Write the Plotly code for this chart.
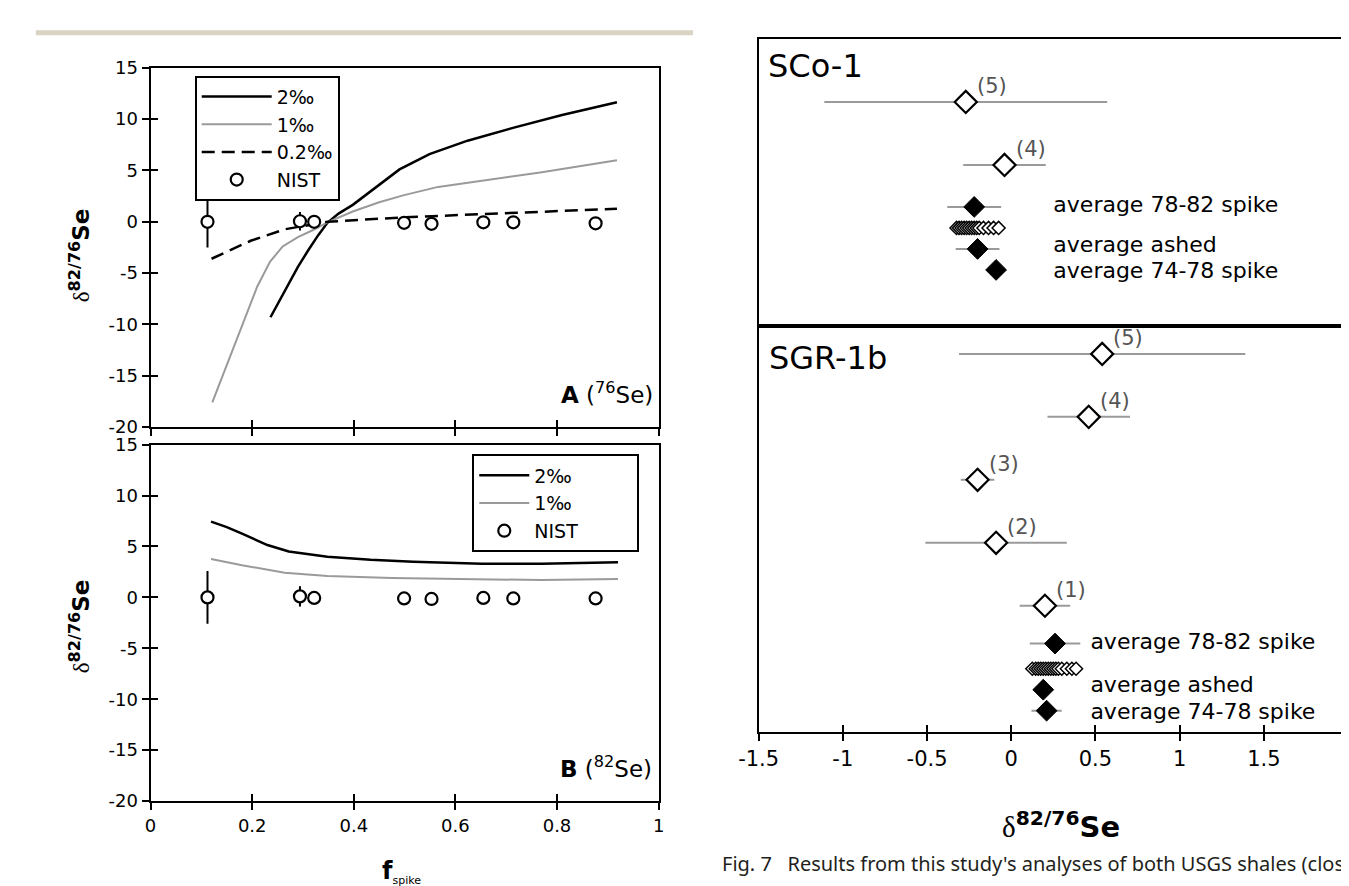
import plotly.graph_objects as go

W, H = 1349, 886

# ---------------- Data: left panels (f_spike vs delta82/76Se) ----------------
nist_f = [0.112, 0.294, 0.322, 0.499, 0.553, 0.655, 0.714, 0.876]
nist_a = [0.0, 0.05, 0.0, -0.1, -0.2, -0.05, -0.05, -0.15]
nist_a_err = [2.5, 0.9, 0.3, 0.3, 0.3, 0.3, 0.3, 0.3]
nist_b = [0.0, 0.1, -0.05, -0.1, -0.15, -0.05, -0.1, -0.1]
nist_b_err = [2.6, 1.0, 0.3, 0.3, 0.3, 0.3, 0.3, 0.3]

a2_f = [0.236, 0.262, 0.29, 0.31, 0.33, 0.348, 0.37, 0.398, 0.448, 0.49, 0.549, 0.624, 0.717, 0.81, 0.918]
a2_d = [-9.3, -6.9, -4.4, -2.8, -1.3, -0.1, 0.8, 1.65, 3.55, 5.1, 6.6, 7.9, 9.2, 10.4, 11.65]
a1_f = [0.1215, 0.15, 0.18, 0.21, 0.235, 0.26, 0.29, 0.32, 0.348, 0.398, 0.45, 0.499, 0.566, 0.65, 0.767, 0.918]
a1_d = [-17.6, -14.0, -10.1, -6.3, -3.9, -2.4, -1.5, -0.8, -0.05, 1.0, 1.9, 2.6, 3.4, 4.0, 4.8, 6.0]
a02_f = [0.12, 0.197, 0.264, 0.348, 0.499, 0.683, 0.918]
a02_d = [-3.6, -1.85, -0.73, 0.0, 0.44, 0.8, 1.27]

b2_f = [0.119, 0.15, 0.18, 0.23, 0.272, 0.348, 0.433, 0.517, 0.652, 0.77, 0.92]
b2_d = [7.44, 6.9, 6.26, 5.14, 4.5, 4.0, 3.7, 3.5, 3.3, 3.3, 3.45]
b1_f = [0.119, 0.18, 0.264, 0.348, 0.475, 0.6, 0.77, 0.92]
b1_d = [3.77, 3.16, 2.43, 2.1, 1.9, 1.8, 1.7, 1.8]

left_xticks = [0, 0.2, 0.4, 0.6, 0.8, 1]
left_xticktext = ["0", "0.2", "0.4", "0.6", "0.8", "1"]
left_yticks = [-20, -15, -10, -5, 0, 5, 10, 15]
left_yticktext = ["-20", "-15", "-10", "-5", "0", "5", "10", "15"]

# ---------------- Data: right panel (USGS shales) ----------------
sco_labels = ["(5)", "(4)"]
sco_vals = [-0.27, -0.04]
sco_err = [0.84, 0.245]
sco_rows = [0, 3]
sco_avg_names = ["average 78-82 spike", "average ashed", "average 74-78 spike"]
sco_avg_vals = [-0.22, -0.20, -0.09]
sco_avg_err = [0.16, 0.13, 0.0]
sco_avg_rows = [5, 7, 8]
sco_avg_label_rows = [5, 6.9, 8.1]
sco_indiv = [-0.325, -0.31, -0.295, -0.28, -0.265, -0.25, -0.235, -0.22, -0.205, -0.19,
             -0.165, -0.135, -0.105, -0.075]
sco_indiv_row = 6

sgr_labels = ["(5)", "(4)", "(3)", "(2)", "(1)"]
sgr_vals = [0.54, 0.46, -0.20, -0.09, 0.20]
sgr_err = [0.85, 0.245, 0.10, 0.42, 0.15]
sgr_rows = [0, 3, 6, 9, 12]
sgr_avg_names = ["average 78-82 spike", "average ashed", "average 74-78 spike"]
sgr_avg_vals = [0.26, 0.19, 0.21]
sgr_avg_err = [0.15, 0.0, 0.09]
sgr_avg_rows = [13.8, 16, 17]
sgr_avg_label_rows = [13.8, 15.85, 17.15]
sgr_indiv = [0.125, 0.145, 0.16, 0.175, 0.19, 0.205, 0.22, 0.235, 0.25, 0.265, 0.28,
             0.30, 0.33, 0.36, 0.385]
sgr_indiv_row = 15

right_xticks = [-1.5, -1, -0.5, 0, 0.5, 1, 1.5, 2]
right_xticktext = ["-1.5", "-1", "-0.5", "0", "0.5", "1", "1.5", "2"]

# ---------------- helpers ----------------
def px(x):
    return x / W


def py(y):
    return 1 - y / H


FONT = "DejaVu Sans"
GRAY = "#9a9a9a"
NBSP = "\u00a0"

fig = go.Figure()

# ---- Panel A ----
fig.add_trace(go.Scatter(x=a2_f, y=a2_d, mode="lines", name="2‰",
                         line=dict(color="black", width=2.5), legend="legend",
                         xaxis="x", yaxis="y"))
fig.add_trace(go.Scatter(x=a1_f, y=a1_d, mode="lines", name="1‰",
                         line=dict(color=GRAY, width=2), legend="legend",
                         xaxis="x", yaxis="y"))
fig.add_trace(go.Scatter(x=a02_f, y=a02_d, mode="lines", name="0.2‰",
                         line=dict(color="black", width=2.5, dash="13px,7px"), legend="legend",
                         xaxis="x", yaxis="y"))
fig.add_trace(go.Scatter(x=nist_f, y=nist_a, mode="markers", name="NIST",
                         marker=dict(symbol="circle", size=12, color="white",
                                     line=dict(color="black", width=2.2)),
                         error_y=dict(type="data", array=nist_a_err, color="black",
                                      thickness=2, width=0),
                         legend="legend", xaxis="x", yaxis="y"))

# ---- Panel B ----
fig.add_trace(go.Scatter(x=b2_f, y=b2_d, mode="lines", name="2‰",
                         line=dict(color="black", width=2.5), legend="legend2",
                         xaxis="x2", yaxis="y2"))
fig.add_trace(go.Scatter(x=b1_f, y=b1_d, mode="lines", name="1‰",
                         line=dict(color=GRAY, width=2), legend="legend2",
                         xaxis="x2", yaxis="y2"))
fig.add_trace(go.Scatter(x=nist_f, y=nist_b, mode="markers", name="NIST" + NBSP * 9,
                         marker=dict(symbol="circle", size=12, color="white",
                                     line=dict(color="black", width=2.2)),
                         error_y=dict(type="data", array=nist_b_err, color="black",
                                      thickness=2, width=0),
                         legend="legend2", xaxis="x2", yaxis="y2"))

# ---- Right: SCo-1 (top) ----
fig.add_trace(go.Scatter(x=sco_vals, y=sco_rows, mode="markers",
                         marker=dict(symbol="diamond", size=17, color="white",
                                     line=dict(color="black", width=2.2)),
                         error_x=dict(type="data", array=sco_err, color=GRAY,
                                      thickness=2, width=0),
                         showlegend=False, xaxis="x3", yaxis="y3"))
fig.add_trace(go.Scatter(x=sco_indiv, y=[sco_indiv_row] * len(sco_indiv), mode="markers",
                         marker=dict(symbol="diamond", size=10, color="white",
                                     line=dict(color="black", width=1.5)),
                         showlegend=False, xaxis="x3", yaxis="y3"))
fig.add_trace(go.Scatter(x=sco_avg_vals, y=sco_avg_rows, mode="markers",
                         marker=dict(symbol="diamond", size=16, color="black",
                                     line=dict(color="black", width=1)),
                         error_x=dict(type="data", array=sco_avg_err, color=GRAY,
                                      thickness=2, width=0),
                         showlegend=False, xaxis="x3", yaxis="y3"))
fig.add_trace(go.Scatter(x=[0.25] * len(sco_avg_names), y=sco_avg_label_rows, mode="text",
                         text=sco_avg_names, textposition="middle right",
                         textfont=dict(family=FONT, size=22, color="black"),
                         cliponaxis=False, showlegend=False, xaxis="x3", yaxis="y3"))

# ---- Right: SGR-1b (bottom) ----
fig.add_trace(go.Scatter(x=sgr_vals, y=sgr_rows, mode="markers",
                         marker=dict(symbol="diamond", size=17, color="white",
                                     line=dict(color="black", width=2.2)),
                         error_x=dict(type="data", array=sgr_err, color=GRAY,
                                      thickness=2, width=0),
                         showlegend=False, xaxis="x4", yaxis="y4"))
fig.add_trace(go.Scatter(x=sgr_indiv, y=[sgr_indiv_row] * len(sgr_indiv), mode="markers",
                         marker=dict(symbol="diamond", size=10, color="white",
                                     line=dict(color="black", width=1.5)),
                         showlegend=False, xaxis="x4", yaxis="y4"))
fig.add_trace(go.Scatter(x=sgr_avg_vals, y=sgr_avg_rows, mode="markers",
                         marker=dict(symbol="diamond", size=16, color="black",
                                     line=dict(color="black", width=1)),
                         error_x=dict(type="data", array=sgr_avg_err, color=GRAY,
                                      thickness=2, width=0),
                         showlegend=False, xaxis="x4", yaxis="y4"))
fig.add_trace(go.Scatter(x=[0.47] * len(sgr_avg_names), y=sgr_avg_label_rows, mode="text",
                         text=sgr_avg_names, textposition="middle right",
                         textfont=dict(family=FONT, size=22, color="black"),
                         cliponaxis=False, showlegend=False, xaxis="x4", yaxis="y4"))

# ---- empty traces for overlay axes (inner half of crossing ticks) ----
for xa, ya in [("x5", "y5"), ("x6", "y6"), ("x7", "y7")]:
    fig.add_trace(go.Scatter(x=[None], y=[None], mode="markers", showlegend=False,
                             hoverinfo="skip", xaxis=xa, yaxis=ya))

# ---------------- Axes ----------------
dom_left_x = [px(125), px(643)]
dom_a_y = [py(418), py(50)]
dom_b_y = [py(801), py(436)]
dom_r_x = [px(745), px(1346)]
dom_r_top = [py(314), py(20)]
dom_r_bot = [py(730), py(314)]

line_common = dict(showline=True, linecolor="black", linewidth=2, showgrid=False,
                   zeroline=False, fixedrange=True)
tick_out = dict(ticks="outside", ticklen=7, tickwidth=2, tickcolor="black")
tick_in = dict(ticks="inside", ticklen=7, tickwidth=2, tickcolor="black",
               showticklabels=False, showline=False, showgrid=False, zeroline=False,
               fixedrange=True)
tfont_left = dict(family=FONT, size=18, color="black")
tfont_right = dict(family=FONT, size=21, color="black")

layout_axes = dict(
    xaxis=dict(domain=dom_left_x, range=[0, 1], anchor="y", mirror=True,
               tickvals=left_xticks, showticklabels=False, **tick_out, **line_common),
    yaxis=dict(domain=dom_a_y, range=[-20, 15], anchor="x", mirror=True,
               tickvals=left_yticks, ticktext=left_yticktext, tickfont=tfont_left,
               **tick_out, **line_common),
    xaxis2=dict(domain=dom_left_x, range=[0, 1], anchor="y2", mirror=True,
                tickvals=left_xticks, ticktext=left_xticktext, tickfont=tfont_left,
                **tick_out, **line_common),
    yaxis2=dict(domain=dom_b_y, range=[-20, 15], anchor="x2", mirror=True,
                tickvals=left_yticks, ticktext=left_yticktext, tickfont=tfont_left,
                **tick_out, **line_common),
    xaxis3=dict(domain=dom_r_x, range=[-1.5, 2], anchor="y3", mirror=True,
                showticklabels=False, ticks="", **line_common),
    yaxis3=dict(domain=dom_r_top, range=[10.65, -3.02], anchor="x3", mirror=True,
                showticklabels=False, ticks="", **line_common),
    xaxis4=dict(domain=dom_r_x, range=[-1.5, 2], anchor="y4", mirror=True,
                tickvals=right_xticks, ticktext=right_xticktext, tickfont=tfont_right,
                **tick_out, **line_common),
    yaxis4=dict(domain=dom_r_bot, range=[18.0, -1.35], anchor="x4", mirror=True,
                showticklabels=False, ticks="", **line_common),
    # overlay axes for inward tick halves
    xaxis5=dict(domain=dom_left_x, overlaying="x", anchor="y5", range=[0, 1],
                tickvals=left_xticks, **tick_in),
    yaxis5=dict(domain=dom_a_y, overlaying="y", anchor="x5", range=[-20, 15],
                tickvals=left_yticks, **tick_in),
    xaxis6=dict(domain=dom_left_x, overlaying="x2", anchor="y6", range=[0, 1],
                tickvals=left_xticks, **tick_in),
    yaxis6=dict(domain=dom_b_y, overlaying="y2", anchor="x6", range=[-20, 15],
                tickvals=left_yticks, **tick_in),
    xaxis7=dict(domain=dom_r_x, overlaying="x4", anchor="y7", range=[-1.5, 2],
                tickvals=right_xticks, **tick_in),
    yaxis7=dict(domain=dom_r_bot, overlaying="y4", anchor="x7", range=[18.0, -1.35],
                visible=False),
)

# ---------------- Annotations ----------------
ytitle = ("<span style='font-family:Liberation Serif;font-weight:normal'>δ</span>"
          "<sup><b>82/76</b></sup><b>Se</b>")
annotations = [
    dict(x=px(53), y=py(242), xref="paper", yref="paper", text=ytitle, textangle=-90,
         showarrow=False, font=dict(family=FONT, size=23, color="black"),
         xanchor="center", yanchor="middle"),
    dict(x=px(53), y=py(622), xref="paper", yref="paper", text=ytitle, textangle=-90,
         showarrow=False, font=dict(family=FONT, size=23, color="black"),
         xanchor="center", yanchor="middle"),
    dict(x=px(639), y=py(383), xref="paper", yref="paper",
         text="<b>A</b> (<sup>76</sup>Se)", showarrow=False,
         font=dict(family=FONT, size=23, color="black"), xanchor="right", yanchor="middle"),
    dict(x=px(638), y=py(766), xref="paper", yref="paper",
         text="<b>B</b> (<sup>82</sup>Se)", showarrow=False,
         font=dict(family=FONT, size=23, color="black"), xanchor="right", yanchor="middle"),
    dict(x=px(381), y=py(874), xref="paper", yref="paper",
         text="<b>f</b><sub><span style='font-size:11px'>spike</span></sub>",
         showarrow=False, font=dict(family=FONT, size=24, color="black"),
         xanchor="center", yanchor="middle"),
    dict(x=px(1053), y=py(826), xref="paper", yref="paper",
         text=("<span style='font-family:Liberation Serif;font-weight:normal'>δ</span>"
               "<sup><b>82/76</b></sup><b>Se</b>"),
         showarrow=False, font=dict(family=FONT, size=29, color="black"),
         xanchor="center", yanchor="middle"),
    dict(x=px(753), y=py(48), xref="paper", yref="paper", text="SCo-1",
         showarrow=False, font=dict(family=FONT, size=32, color="black"),
         xanchor="left", yanchor="middle"),
    dict(x=px(754), y=py(347), xref="paper", yref="paper", text="SGR-1b",
         showarrow=False, font=dict(family=FONT, size=32, color="black"),
         xanchor="left", yanchor="middle"),
    dict(x=px(706), y=py(865), xref="paper", yref="paper",
         text="Fig. 7" + NBSP * 3 + "Results from this study's analyses of both USGS shales (closed",
         showarrow=False, font=dict(family="Noto Sans", size=20, color="#231f20"),
         xanchor="left", yanchor="middle"),
]

# sample number labels next to the open diamonds
for lab, xv, yv in zip(sco_labels, sco_vals, sco_rows):
    annotations.append(dict(x=xv, y=yv, xref="x3", yref="y3", text=lab, showarrow=False,
                            xanchor="left", yanchor="middle", xshift=9, yshift=16,
                            font=dict(family=FONT, size=21, color="#555555")))
for lab, xv, yv in zip(sgr_labels, sgr_vals, sgr_rows):
    annotations.append(dict(x=xv, y=yv, xref="x4", yref="y4", text=lab, showarrow=False,
                            xanchor="left", yanchor="middle", xshift=9, yshift=16,
                            font=dict(family=FONT, size=21, color="#555555")))

shapes = [
    dict(type="line", xref="paper", yref="paper", x0=px(8), x1=px(678), y0=py(14), y1=py(14),
         line=dict(color="#d9d3c3", width=5)),
]

fig.update_layout(
    width=W, height=H, autosize=False,
    margin=dict(l=0, r=0, t=0, b=0),
    paper_bgcolor="white", plot_bgcolor="rgba(0,0,0,0)",
    font=dict(family=FONT, color="black"),
    annotations=annotations, shapes=shapes,
    legend=dict(x=px(170), y=py(58), xanchor="left", yanchor="top",
                bgcolor="white", bordercolor="black", borderwidth=2,
                font=dict(family=FONT, size=19, color="black"), itemwidth=70,
                tracegroupgap=0),
    legend2=dict(x=px(453), y=py(446), xanchor="left", yanchor="top",
                 bgcolor="white", bordercolor="black", borderwidth=2,
                 font=dict(family=FONT, size=19, color="black"), itemwidth=50,
                 tracegroupgap=0),
    **layout_axes,
)

fig.write_html("out.html")
